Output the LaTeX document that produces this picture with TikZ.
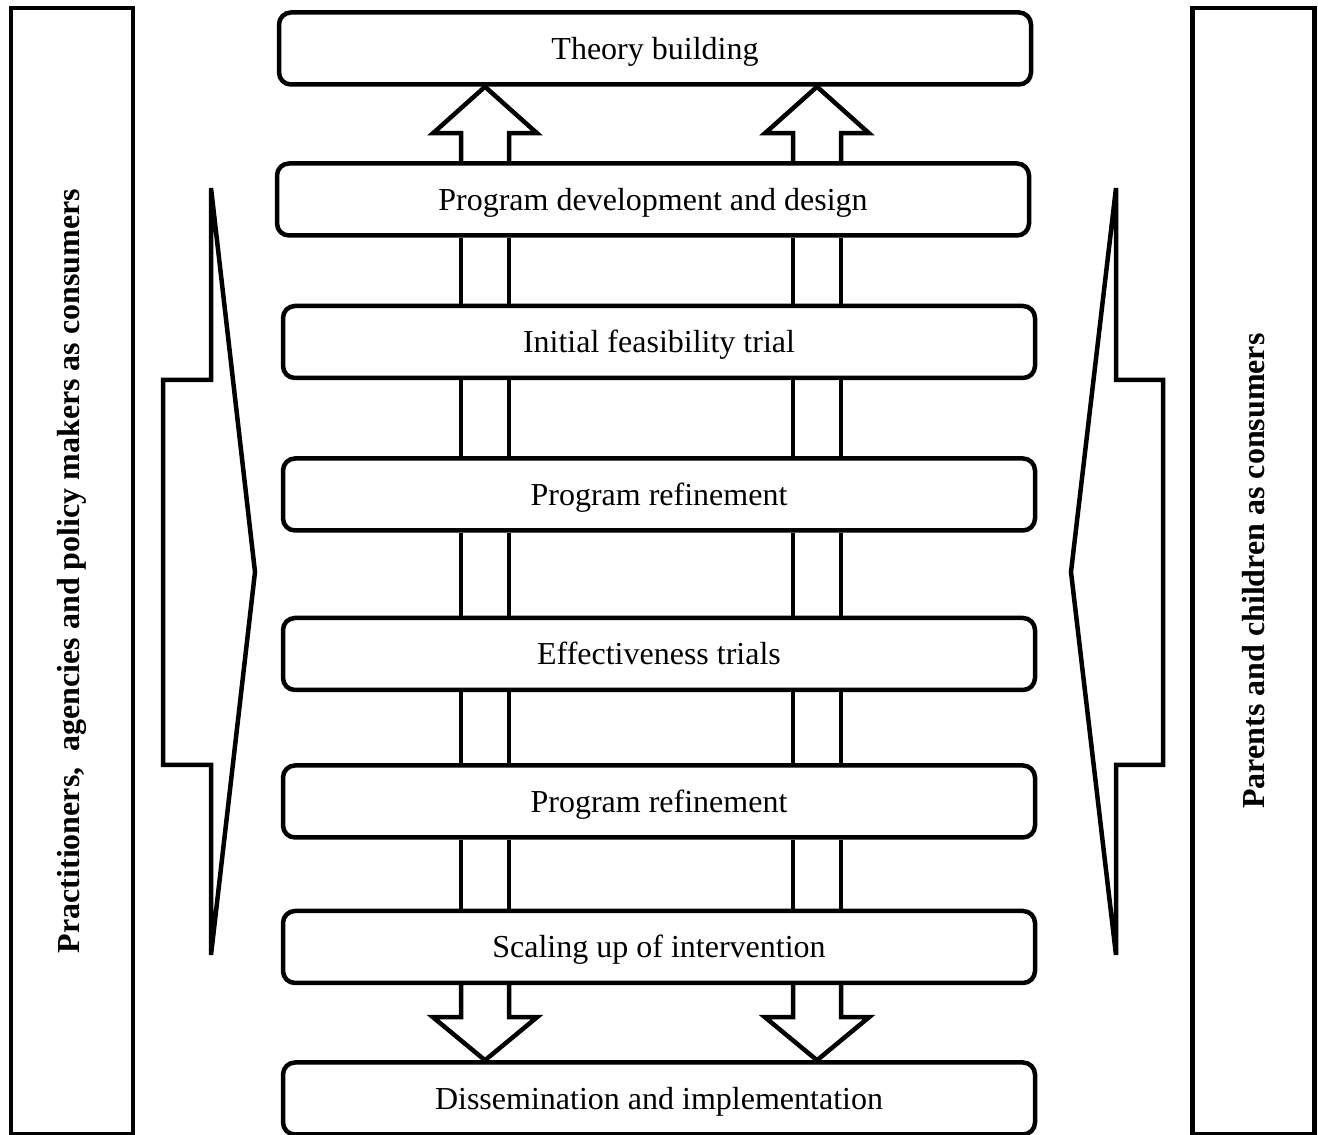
\documentclass[tikz,border=0pt]{standalone}
\usepackage{fontspec}
\setmainfont{Liberation Serif}
\usetikzlibrary{calc}

\begin{document}
\begin{tikzpicture}[
        x=0.5pt, y=0.5pt,
        stage/.style={draw, rounded corners=6pt, line width=2.25pt, minimum width=376pt,
            minimum height=36pt, inner sep=0pt, text height=14.5pt, text depth=3.5pt,
            font=\fontsize{16}{19}\selectfont},
        shaft/.style={line width=2.25pt},
        sidebox/.style={draw, line width=2.25pt, rotate=90, minimum width=563pt,
            minimum height=61pt, inner sep=0pt, font=\fontsize{16}{19}\selectfont\bfseries},
        chevron/.style={line width=2.25pt},
    ]
    \useasboundingbox (0,0) rectangle (1318,1135);

    %% ---- Side boxes: consumers ----
    \node[sidebox] (pract) at (72,564) {Practitioners,\ \ agencies and policy makers as consumers};
    \node[sidebox] (parent) at (1253.5,564) {Parents and children as consumers};

    % Block arrows pointing in from both sides
    \draw[chevron] (211,947) -- (255,563) -- (211,180) -- (211,370) -- (163,370)
        -- (163,755) -- (211,755) -- cycle;
    \draw[chevron] (1116,947) -- (1071,563) -- (1116,180) -- (1116,370) -- (1163,370)
        -- (1163,755) -- (1116,755) -- cycle;

    %% ---- Stages ----
    \node[stage] (theory)  at (655,1086.5) {Theory building};
    \node[stage] (design)  at (653,935.5)  {Program development and design};
    \node[stage] (feas)    at (659,793)    {Initial feasibility trial};
    \node[stage] (refineA) at (659,640.5)  {Program refinement};
    \node[stage] (effect)  at (659,481)    {Effectiveness trials};
    \node[stage] (refineB) at (659,333.5)  {Program refinement};
    \node[stage] (scaleup) at (659,188)    {Scaling up of intervention};
    \node[stage] (dissem)  at (659,36.5)   {Dissemination and implementation};

    % Shaft centres
    \coordinate (left)  at (485,0);
    \coordinate (right) at (817,0);

    %% ---- Shafts between stages ----
    \foreach \a/\b in {design/feas, feas/refineA, refineA/effect, effect/refineB, refineB/scaleup} {
        \foreach \c in {left, right} {
            \draw[shaft] ($(\c |- \a.south)+(-24,0)$) -- ($(\c |- \b.north)+(-24,0)$);
            \draw[shaft] ($(\c |- \a.south)+(24,0)$) -- ($(\c |- \b.north)+(24,0)$);
        }
    }

    %% ---- Up into theory, down into dissemination ----
    \foreach \c in {left, right} {
        \draw[shaft] ($(\c |- design.north)+(-24,0)$) -- ++(0,28) -- ++(-28,0)
            -- (\c |- theory.south) -- ($(\c |- design.north)+(52,28)$) -- ++(-28,0) -- ++(0,-28);
        \draw[shaft] ($(\c |- scaleup.south)+(-24,0)$) -- ++(0,-32) -- ++(-28,0)
            -- (\c |- dissem.north) -- ($(\c |- scaleup.south)+(52,-32)$) -- ++(-28,0) -- ++(0,32);
    }

\end{tikzpicture}
\end{document}
